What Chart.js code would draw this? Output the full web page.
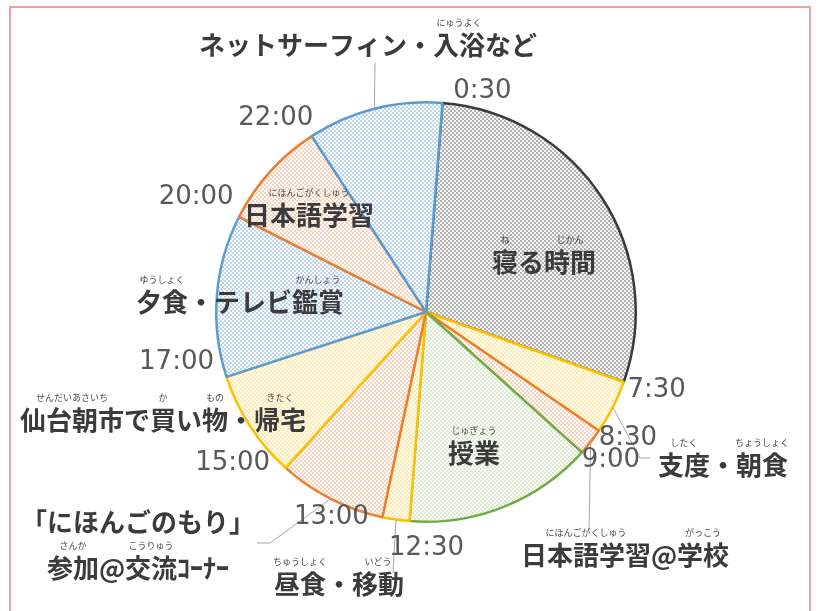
<!DOCTYPE html>
<html>
<head>
<meta charset="utf-8">
<script src="https://cdn.jsdelivr.net/npm/chart.js@4/dist/chart.umd.min.js"></script>
<style>
  body { margin: 0; background: #fff; }
  #wrap { position: relative; width: 820px; height: 611px; overflow: hidden; }
  #frame { position: absolute; left: 9px; top: 6px; width: 798px; height: 620px; border: 2px solid #eaa3a3; }
  canvas { position: absolute; left: 0; top: 0; }
</style>
</head>
<body>
<div id="wrap">
  <div id="frame"></div>
  <canvas id="day-chart" width="820" height="611"></canvas>
</div>
<script>
// 一日のスケジュール (0:30 start, hours per activity)
const activities = ['寝る時間', '支度・朝食', '日本語学習@学校', '授業', '昼食・移動',
    '「にほんごのもり」参加@交流ｺｰﾅｰ', '仙台朝市で買い物・帰宅', '夕食・テレビ鑑賞', '日本語学習', 'ネットサーフィン・入浴など'];
const hours = [7, 1, 0.5, 3.5, 0.5, 2, 2, 3, 2, 2.5];
const startTimes = ['0:30', '7:30', '8:30', '9:00', '12:30', '13:00', '15:00', '17:00', '20:00', '22:00'];

// label lines and furigana [first char, char count, reading]
const labelLines = [
    [['寝る時間', [[0, 1, 'ね'], [2, 2, 'じかん']]]],
    [['支度・朝食', [[0, 2, 'したく'], [3, 2, 'ちょうしょく']]]],
    [['日本語学習@学校', [[0, 5, 'にほんごがくしゅう'], [6, 2, 'がっこう']]]],
    [['授業', [[0, 2, 'じゅぎょう']]]],
    [['昼食・移動', [[0, 2, 'ちゅうしょく'], [3, 2, 'いどう']]]],
    [['「にほんごのもり」', []], ['参加@交流ｺｰﾅｰ', [[0, 2, 'さんか'], [3, 2, 'こうりゅう']]]],
    [['仙台朝市で買い物・帰宅', [[0, 4, 'せんだいあさいち'], [5, 1, 'か'], [7, 1, 'もの'], [9, 2, 'きたく']]]],
    [['夕食・テレビ鑑賞', [[0, 2, 'ゆうしょく'], [6, 2, 'かんしょう']]]],
    [['日本語学習', [[0, 5, 'にほんごがくしゅう']]]],
    [['ネットサーフィン・入浴など', [[9, 2, 'にゅうよく']]]]
];

// colour groups
const fillColors = {
    sleep: ['#f5f5f5', '#b3b3b3'],
    blue: ['#ffffff', '#bdd7ee'],
    orange: ['#ffffff', '#f9d3bb'],
    yellow: ['#ffffff', '#ffeaa8'],
    green: ['#ffffff', '#dcebd0']
};
const lineColors = { sleep: '#3a3a3a', blue: '#5b9bd5', orange: '#ed7d31', yellow: '#ffc000', green: '#70ad47' };
const sliceGroups = ['sleep', 'yellow', 'orange', 'green', 'yellow', 'orange', 'yellow', 'blue', 'orange', 'blue'];

// label placement relative to pie centre
const labelPos = [[118, -50], [297, 153], [199, 243], [48, 141], [-87, 272], [-288, 210], [-263, 108], [-186, -10], [-117, -97], [-58, -267]];
const lineGap = 46;
const timeOffsets = [[40, -12], [33, 8], [29, 7], [29, 8], [17, 27], [-51, 0], [-53, -5], [-50, -15], [-43, -20], [-36, -18]];
const leaders = {
    1: [[214, 146], [224, 146]],
    2: [[163, 218]],
    4: [[-33, 261]],
    5: [[-156, 231], [-169, 231]],
    9: [[-51, -249]]
};

function makePattern(colors) {
    const c = document.createElement('canvas');
    c.width = 4;
    c.height = 4;
    const g = c.getContext('2d');
    g.fillStyle = colors[0];
    g.fillRect(0, 0, 4, 4);
    g.fillStyle = colors[1];
    g.fillRect(0, 0, 2, 2);
    g.fillRect(2, 2, 2, 2);
    return g.createPattern(c, 'repeat');
}

const labelPlugin = {
    id: 'dayLabels',
    afterDraw(chart) {
        const ctx = chart.ctx;
        const arcs = chart.getDatasetMeta(0).data;
        const cx = arcs[0].x, cy = arcs[0].y, r = arcs[0].outerRadius;
        ctx.save();

        // leader lines from slice midpoints
        ctx.strokeStyle = '#a6a6a6';
        ctx.lineWidth = 1;
        Object.keys(leaders).forEach(k => {
            const arc = arcs[k];
            const mid = (arc.startAngle + arc.endAngle) / 2;
            ctx.beginPath();
            ctx.moveTo(cx + r * Math.cos(mid), cy + r * Math.sin(mid));
            leaders[k].forEach(p => ctx.lineTo(cx + p[0], cy + p[1]));
            ctx.stroke();
        });

        // time labels at slice start boundaries
        ctx.font = '26px "DejaVu Sans"';
        ctx.fillStyle = '#595959';
        ctx.textAlign = 'center';
        ctx.textBaseline = 'middle';
        startTimes.forEach((t, i) => {
            const a = arcs[i].startAngle;
            ctx.fillText(t, cx + r * Math.cos(a) + timeOffsets[i][0], cy + r * Math.sin(a) + timeOffsets[i][1]);
        });

        // activity labels with furigana
        labelLines.forEach((lines, i) => {
            lines.forEach((line, j) => {
                const text = line[0];
                const x = cx + labelPos[i][0];
                const y = cy + labelPos[i][1] + j * lineGap;
                ctx.font = 'bold 26px "Noto Sans CJK JP"';
                ctx.fillStyle = '#3b3b3b';
                ctx.textAlign = 'left';
                const w = ctx.measureText(text).width;
                const x0 = x - w / 2;
                ctx.fillText(text, x0, y);
                line[1].forEach(rb => {
                    ctx.font = 'bold 26px "Noto Sans CJK JP"';
                    const a = ctx.measureText(text.slice(0, rb[0])).width;
                    const b = ctx.measureText(text.slice(0, rb[0] + rb[1])).width;
                    ctx.font = '9px "Noto Sans CJK JP"';
                    ctx.fillStyle = '#4a4a4a';
                    ctx.textAlign = 'center';
                    ctx.fillText(rb[2], x0 + (a + b) / 2, y - 22);
                    ctx.textAlign = 'left';
                    ctx.fillStyle = '#3b3b3b';
                });
            });
        });
        ctx.restore();
    }
};

new Chart(document.getElementById('day-chart').getContext('2d'), {
    type: 'pie',
    data: {
        labels: activities,
        datasets: [{
            data: hours,
            backgroundColor: sliceGroups.map(g => makePattern(fillColors[g])),
            borderColor: sliceGroups.map(g => lineColors[g]),
            borderWidth: 2.5
        }]
    },
    options: {
        responsive: false,
        animation: false,
        rotation: 4.5,
        layout: { padding: { left: 215, right: 183, top: 101, bottom: 88 } },
        plugins: {
            legend: { display: false },
            tooltip: { enabled: false }
        }
    },
    plugins: [labelPlugin]
});
</script>
</body>
</html>
